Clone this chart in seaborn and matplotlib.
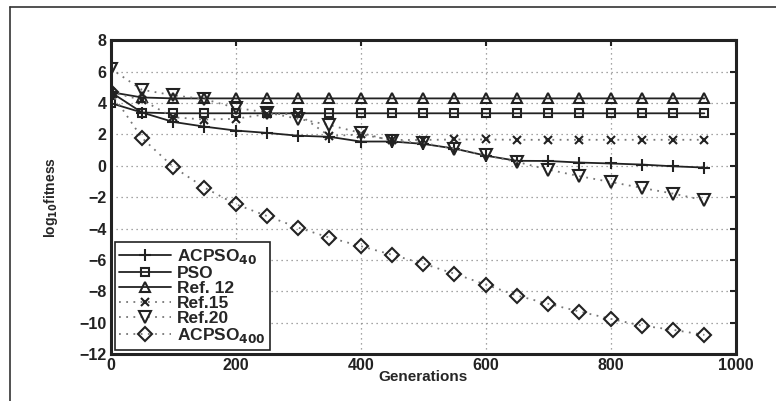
import numpy as np
import pandas as pd
import matplotlib
matplotlib.use("Agg")
import matplotlib.pyplot as plt
import seaborn as sns
from matplotlib.lines import Line2D

# generations sampled every 50
generations = list(range(0, 1000, 50))

acpso40 = [4.7, 3.4, 2.8, 2.5, 2.25, 2.1, 1.92, 1.85, 1.55, 1.55, 1.4, 1.1,
           0.65, 0.32, 0.31, 0.21, 0.15, 0.08, -0.03, -0.11]
pso = [4.0, 3.4] + [3.35] * 18
ref12 = [4.7, 4.36] + [4.3] * 18
ref15 = [4.7, 4.2, 3.1, 2.95, 3.0, 3.3, 3.3, 1.9, 2.0, 1.65, 1.65, 1.68,
         1.68, 1.66, 1.66, 1.66, 1.66, 1.66, 1.66, 1.66]
ref20 = [6.2, 4.85, 4.5, 4.25, 3.7, 3.4, 3.0, 2.6, 2.1, 1.6, 1.45, 1.1,
         0.68, 0.25, -0.24, -0.66, -1.03, -1.41, -1.77, -2.2]
acpso400 = [4.7, 1.78, -0.07, -1.39, -2.45, -3.2, -3.94, -4.58, -5.12, -5.67,
            -6.24, -6.88, -7.57, -8.27, -8.8, -9.29, -9.76, -10.19, -10.46, -10.78]

labels = [r"ACPSO$_{\mathbf{40}}$", "PSO", "Ref. 12", "Ref.15", "Ref.20",
          r"ACPSO$_{\mathbf{400}}$"]
series = [acpso40, pso, ref12, ref15, ref20, acpso400]
markers = ["+", "s", "^", "x", "v", "D"]
linestyles = ["-", "-", "-", ":", ":", ":"]
msizes = [9, 6, 7.5, 5.5, 8, 7]

sns.set_style("white")
plt.rcParams["font.family"] = ["Liberation Sans", "DejaVu Sans"]
plt.rcParams["font.weight"] = "bold"
plt.rcParams["mathtext.default"] = "bf"

fig = plt.figure(figsize=(7.76, 4.01), dpi=100)
ax = fig.add_axes([0.1427, 0.1172, 0.8053, 0.7821])

for lab, ys, mk, ls, ms in zip(labels, series, markers, linestyles, msizes):
    df = pd.DataFrame({"gen": generations, "val": ys})
    dotted = ls == ":"
    sns.lineplot(data=df, x="gen", y="val", ax=ax,
                 color="#777777" if dotted else "#222222",
                 linestyle=(0, (1, 3)) if dotted else "-",
                 linewidth=1.3,
                 marker=mk, markersize=ms, markerfacecolor="none",
                 markeredgecolor="#222222", markeredgewidth=1.5, label=lab)

ax.set_xlim(0, 1000)
ax.set_ylim(-12, 8)
ax.set_xticks(range(0, 1001, 200))
ax.set_yticks(range(-12, 9, 2))
ax.set_yticklabels([str(v).replace("-", "\u2212") for v in range(-12, 9, 2)])
ax.grid(True, linestyle=(0, (1, 3)), color="#888888", linewidth=0.9)
ax.tick_params(direction="in", length=4, width=1.5, top=True, right=True,
               labelsize=11.5, pad=3, colors="#222222")
for lbl in ax.get_xticklabels() + ax.get_yticklabels():
    lbl.set_fontweight("bold")
for sp in ax.spines.values():
    sp.set_linewidth(2.2)
    sp.set_color("#222222")

ax.set_xlabel("Generations", fontsize=11, fontweight="bold", labelpad=-2)
ax.set_ylabel(r"log$_{10}$fitness", fontsize=10, fontweight="bold", labelpad=14)

leg = ax.legend(loc="lower left", fontsize=12.5, handlelength=3.0,
                borderaxespad=0.25, labelspacing=0.0, handletextpad=0.3,
                fancybox=False, framealpha=1, edgecolor="#222222",
                borderpad=0.25)
leg.get_frame().set_linewidth(1.2)
for t in leg.get_texts():
    t.set_fontweight("bold")

# outer frame lines (cut by the image edge)
fig.add_artist(Line2D([10 / 776, 10 / 776], [0, 1 - 7 / 401],
                      transform=fig.transFigure, color="#333333", linewidth=1.2))
fig.add_artist(Line2D([10 / 776, 1], [1 - 7 / 401, 1 - 7 / 401],
                      transform=fig.transFigure, color="#333333", linewidth=1.2))

fig.savefig("out.png", dpi=100)
